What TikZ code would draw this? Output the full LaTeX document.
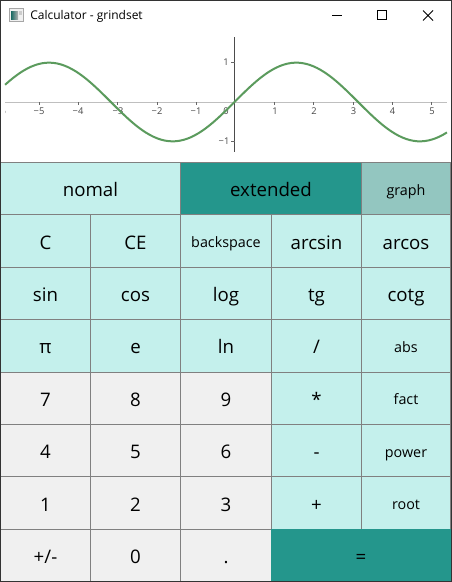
\documentclass[tikz,border=0pt]{standalone}
\usepackage{fontspec}
\setmainfont{Open Sans}
\usetikzlibrary{positioning}
\definecolor{lite}{HTML}{C4F0EC}
\definecolor{deep}{HTML}{24968C}
\definecolor{pale}{HTML}{93C6C0}
\definecolor{keygrey}{HTML}{F0F0F0}
\definecolor{edgegrey}{HTML}{808080}
\definecolor{curve}{HTML}{5B9B5D}
\definecolor{frame}{HTML}{333333}
\begin{document}
\begin{tikzpicture}[x=0.75pt,y=-0.75pt,node distance = 0pt]
\tikzstyle{k}=[draw=edgegrey,line width=0.75pt,inner sep=0pt,outer sep=0pt,minimum width=67.5pt,minimum height=39.3pt,font=\fontsize{14}{16}\selectfont,text height=14pt,text depth=2pt,text=black]
\tikzstyle{sm}=[font=\fontsize{10.75}{12}\selectfont,text height=11pt,text depth=1pt]
\tikzstyle{l}=[k,fill=lite]
\tikzstyle{g}=[k,fill=keygrey]
\tikzstyle{wa}=[minimum width=68.25pt]
\tikzstyle{wb}=[minimum width=66.75pt]
\tikzstyle{t}=[inner sep=0pt,text=black!72,font=\fontsize{7}{8}\selectfont]
\tikzstyle{tk}=[draw=black!60,line width=0.6pt]
\useasboundingbox (0,0) rectangle (452,582);
\fill[white] (0,0) rectangle (452,582);
% title bar
\node[inner sep=0pt,anchor=west,font=\fontsize{9}{11}\selectfont] (title) at (30,16) {Calculator - grindset};
\draw[black!35,fill=black!6,line width=0.6pt] (9.5,8.5) rectangle (23.5,21);
\fill[left color=deep!70!black,right color=black!30] (11,11) rectangle (18,19);
\fill[black!20] (19,11) rectangle (22,15);
\draw[line width=0.75pt] (332,15.5) -- (342,15.5);
\draw[line width=0.75pt] (377.5,10.5) rectangle (386.5,19.5);
\draw[line width=0.75pt] (423,10.5) -- (433,20.5) (433,10.5) -- (423,20.5);
% plot
\draw[black!25,line width=0.75pt] (5,102) -- (447,102);
\draw[black!70,line width=0.75pt] (234.5,37) -- (234.5,152);
\draw[tk] (39,102) -- (39,105);
\draw[tk] (78,102) -- (78,105);
\draw[tk] (117.5,102) -- (117.5,105);
\draw[tk] (157,102) -- (157,105);
\draw[tk] (196,102) -- (196,105);
\draw[tk] (274.5,102) -- (274.5,105);
\draw[tk] (313.5,102) -- (313.5,105);
\draw[tk] (353,102) -- (353,105);
\draw[tk] (392,102) -- (392,105);
\draw[tk] (431.5,102) -- (431.5,105);
\draw[tk] (231,62.5) -- (234.5,62.5);
\draw[tk] (231,141.5) -- (234.5,141.5);
\begin{scope}
\clip (5,90) rectangle (452,120);
\node[t] (xm6) at (0.7,111) {−6};
\end{scope}
\node[t] (xm5) at (39,111) {−5};
\node[t] (xm4) at (78,111) {−4};
\node[t] (xm3) at (118,111) {−3};
\node[t] (xm2) at (157,111) {−2};
\node[t] (xm1) at (196,111) {−1};
\node[t] (x0) at (226,111) {0};
\node[t] (x1) at (275,111) {1};
\node[t] (x2) at (314,111) {2};
\node[t] (x3) at (353.5,111) {3};
\node[t] (x4) at (392.5,111) {4};
\node[t] (x5) at (432,111) {5};
\node[t] (y1) at (226,62.5) {1};
\node[t] (ym1) at (224,141.5) {−1};
\draw[curve,line width=1.5pt,smooth] plot[domain=-5.83:5.4,samples=120] ({234.5+39.35*\x},{102-39.35*sin(\x r)});
% keys
\node[l,minimum width=135pt,anchor=north west] (nomal) at (0.5,162.5) {nomal};
\node[k,fill=deep,minimum width=135.75pt] (extended) [right= of nomal] {extended};
\node[k,sm,fill=pale,wb] (graph) [right= of extended] {graph};
\node[l,anchor=north west] (C) at (nomal.south west) {C};
\node[l] (CE) [right= of C] {CE};
\node[l,sm,wa] (backspace) [right= of CE] {backspace};
\node[l] (arcsin) [right= of backspace] {arcsin};
\node[l,wb] (arcos) [right= of arcsin] {arcos};
\node[l] (sin) [below= of C] {sin};
\node[l] (cos) [right= of sin] {cos};
\node[l,wa] (log) [right= of cos] {log};
\node[l] (tg) [right= of log] {tg};
\node[l,wb] (cotg) [right= of tg] {cotg};
\node[l] (pi) [below= of sin] {π};
\node[l] (e) [right= of pi] {e};
\node[l,wa] (ln) [right= of e] {ln};
\node[l] (div) [right= of ln] {/};
\node[l,sm,wb] (abs) [right= of div] {abs};
\node[g] (n7) [below= of pi] {7};
\node[g] (n8) [right= of n7] {8};
\node[g,wa] (n9) [right= of n8] {9};
\node[l] (mul) [right= of n9] {*};
\node[l,sm,wb] (fact) [right= of mul] {fact};
\node[g] (n4) [below= of n7] {4};
\node[g] (n5) [right= of n4] {5};
\node[g,wa] (n6) [right= of n5] {6};
\node[l] (sub) [right= of n6] {-};
\node[l,sm,wb] (power) [right= of sub] {power};
\node[g] (n1) [below= of n4] {1};
\node[g] (n2) [right= of n1] {2};
\node[g,wa] (n3) [right= of n2] {3};
\node[l] (add) [right= of n3] {+};
\node[l,sm,wb] (root) [right= of add] {root};
\node[g] (sign) [below= of n1] {+/-};
\node[g] (n0) [right= of sign] {0};
\node[g,wa] (dot) [right= of n0] {.};
\node[k,draw=deep,fill=deep,minimum width=134.25pt] (equal) [right= of dot] {=};
% window frame
\draw[frame,line width=0.75pt] (0.4,0.4) rectangle (451.6,581.6);
\end{tikzpicture}
\end{document}
